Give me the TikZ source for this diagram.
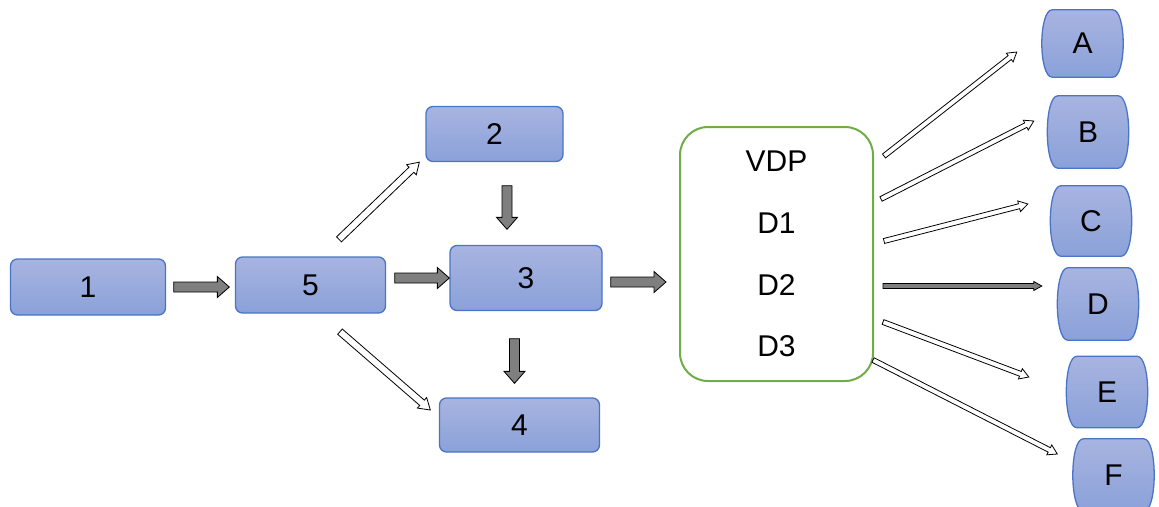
\documentclass[tikz,border=0pt]{standalone}
\usepackage{fontspec}
\setmainfont{Liberation Sans}
\usetikzlibrary{calc,backgrounds}
\definecolor{boxtop}{HTML}{A8B4E0}
\definecolor{boxbot}{HTML}{8AA1D9}
\definecolor{boxline}{HTML}{4A74C8}
\definecolor{vdpgreen}{HTML}{70AD47}
\definecolor{arrgray}{HTML}{7F7F7F}
\tikzset{
  box/.style={rectangle, rounded corners=7pt, draw=boxline, line width=1.3pt,
    top color=boxtop, bottom color=boxbot, inner sep=0pt,
    font=\fontsize{30}{36}\selectfont},
  barrel/.style={rectangle, inner sep=0pt, minimum width=82pt,
    font=\fontsize{30}{36}\selectfont},
  barrelpath/.style={draw=boxline, line width=1.3pt, top color=boxtop, bottom color=boxbot},
  vdpbox/.style={draw=vdpgreen, line width=2pt, rounded corners=28pt,
    minimum width=193pt, minimum height=254pt, align=center,
    font=\fontsize{30}{61.7}\selectfont},
  grayarrow/.style={draw=black, line width=0.8pt, fill=arrgray},
  openarrow/.style={draw=black, line width=0.8pt, fill=white}
}
\newcommand{\blockarrow}[6][]{%
  \coordinate (ba-h) at ($(#3)!#6!(#2)$);
  \draw[#1] ($(#2)!#4!90:(#3)$) -- ($(ba-h)!#4!-90:(#2)$) -- ($(ba-h)!#5!-90:(#2)$)
    -- (#3) -- ($(ba-h)!#5!90:(#2)$) -- ($(ba-h)!#4!90:(#2)$) -- ($(#2)!#4!-90:(#3)$) -- cycle;}
\newcommand{\barrelaround}[1]{%
  \path[barrelpath] ($(#1.north west)+(11,0)$) -- ($(#1.north east)+(-11,0)$)
    .. controls ($(#1.north east)+(3,0)$) and ($(#1.south east)+(3,0)$) .. ($(#1.south east)+(-11,0)$)
    -- ($(#1.south west)+(11,0)$)
    .. controls ($(#1.south west)+(-3,0)$) and ($(#1.north west)+(-3,0)$) .. ($(#1.north west)+(11,0)$) -- cycle;}
\begin{document}
\begin{tikzpicture}[x=1pt,y=-1pt]
\useasboundingbox (0,0) rectangle (1159,506);
\node[box, minimum width=155pt, minimum height=56pt] (n1) at (88,287) {1};
\node[box, minimum width=150pt, minimum height=56pt] (n5) at (310.5,285) {5};
\node[box, minimum width=137pt, minimum height=55pt] (n2) at (494.5,134) {2};
\node[box, minimum width=152pt, minimum height=65pt] (n3) at (526,278) {3};
\node[box, minimum width=160pt, minimum height=54pt] (n4) at (519.5,425) {4};
\node[vdpbox] (vdp) at (776.5,254) {VDP\\D1\\D2\\D3};
\foreach \n/\x/\y/\h in {A/1082.5/43.5/67, B/1088/132/72, C/1091/221/70,
    D/1098/304/72, E/1107/392/71, F/1113.5/475/72}
  \node[barrel, minimum height=\h pt] (\n) at (\x,\y) {\n};
\begin{pgfonlayer}{background}
\foreach \n in {A,B,C,D,E,F} {\barrelaround{\n}}
\end{pgfonlayer}
\coordinate (a15) at ($(n1.east)+(7.5,0)$);
\coordinate (b15) at ($(n1.east -| n5.west)+(-5.5,0)$);
\coordinate (a53) at ($(n3.west -| n5.east)+(8.5,0)$);
\coordinate (b53) at (n3.west);
\coordinate (a3v) at ($(n3.east)+(8,4)$);
\coordinate (b3v) at ($(n3.east -| vdp.west)+(-13,4)$);
\coordinate (a23) at ($(n2.south)+(12.5,23.5)$);
\coordinate (b23) at ($(n3.north)+(-19,-15.5)$);
\coordinate (a34) at ($(n3.south)+(-11.5,27.5)$);
\coordinate (b34) at ($(n4.north)+(-5,-14)$);
\coordinate (a52) at ($(n5.north)+(28.5,-17)$);
\coordinate (b52) at ($(n2.south west)+(-6,0)$);
\coordinate (a54) at ($(n5.south)+(29.5,18)$);
\coordinate (b54) at ($(n4.west)+(-8.5,-15)$);
\foreach \s/\t in {a15/b15, a53/b53, a3v/b3v, a23/b23, a34/b34}
  \blockarrow[grayarrow]{\s}{\t}{5pt}{10.5pt}{12pt};
\blockarrow[openarrow]{a52}{b52}{3.5pt}{7pt}{11pt};
\blockarrow[openarrow]{a54}{b54}{3.5pt}{7pt}{11pt};
\foreach \n/\sa/\sx/\sy/\tx/\ty in {A/north east/10/30/-24.5/8.5,
    B/north east/7/73/-13/-11, C/east/10/-13/-22/-17, D/east/9/32/-15/-18,
    E/east/9/68/-37/-15, F/south east/-1/-22/-15/-21} {
  \coordinate (s\n) at ($(vdp.\sa)+(\sx,\sy)$);
  \coordinate (t\n) at ($(\n.west)+(\tx,\ty)$);
}
\foreach \n in {A,B,C,E,F}
  \blockarrow[openarrow]{s\n}{t\n}{2.5pt}{5.5pt}{9pt};
\blockarrow[grayarrow]{sD}{tD}{2.5pt}{4.5pt}{8pt};
\end{tikzpicture}
\end{document}
